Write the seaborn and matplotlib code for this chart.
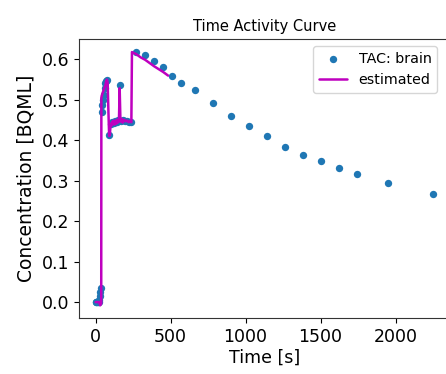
import matplotlib
matplotlib.use("Agg")
import matplotlib.pyplot as plt
import seaborn as sns
import pandas as pd

# --- Data ---
# measured time activity curve (frame mid times in s, concentration)
tac_time = [0, 5, 10, 15, 20, 25, 30, 32, 34,
            40, 45, 50, 55, 60, 65, 70, 75, 90,
            100, 110, 120, 130, 140, 150, 162, 170, 180, 195, 210, 225, 236,
            270, 330, 390, 450, 510, 570, 660, 780, 900, 1020, 1140,
            1260, 1380, 1500, 1620, 1740, 1950, 2250]
tac_conc = [0.0, 0.0, 0.0, 0.0, 0.0, 0.005, 0.015, 0.025, 0.035,
            0.470, 0.487, 0.499, 0.512, 0.528, 0.540, 0.545, 0.549, 0.412,
            0.440, 0.445, 0.442, 0.448, 0.445, 0.450, 0.537, 0.447, 0.450, 0.447, 0.446, 0.444, 0.444,
            0.618, 0.611, 0.596, 0.580, 0.557, 0.541, 0.524, 0.492, 0.459, 0.435, 0.410,
            0.383, 0.364, 0.347, 0.331, 0.317, 0.295, 0.267]

# estimated curve
est_time = [0, 5, 10, 15, 20, 25, 30, 35, 37, 38, 45, 50, 55, 60, 65, 70, 75, 80, 85, 90,
            95, 100, 105, 110, 115, 120, 125, 130, 135, 140, 145, 150, 155, 160, 165,
            170, 175, 180, 190, 200, 210, 220, 230, 238, 242,
            270, 300, 330, 360, 390, 420, 450, 483]
est_conc = [0.0, 0.0, 0.0, 0.0, 0.0, 0.0, -0.008, -0.005, -0.003, 0.505, 0.515, 0.52, 0.525, 0.53, 0.535, 0.545, 0.549, 0.54, 0.47, 0.41,
            0.415, 0.44, 0.435, 0.445, 0.44, 0.448, 0.438, 0.446, 0.44, 0.45, 0.442, 0.448, 0.445, 0.528, 0.45,
            0.445, 0.452, 0.443, 0.45, 0.446, 0.448, 0.444, 0.447, 0.444, 0.617,
            0.612, 0.604, 0.598, 0.59, 0.582, 0.575, 0.568, 0.559]

tac = pd.DataFrame({"time": tac_time, "conc": tac_conc})
est = pd.DataFrame({"time": est_time, "conc": est_conc})

sns.set_style("ticks", {"axes.edgecolor": "#333333", "text.color": "black",
                        "xtick.color": "black", "ytick.color": "black",
                        "axes.labelcolor": "black"})
plt.rcParams["font.family"] = ["DejaVu Sans"]

fig = plt.figure(figsize=(4.46, 3.74), dpi=100)
ax = fig.add_axes([0.1767, 0.1497, 0.832, 0.746])

sns.scatterplot(data=tac, x="time", y="conc", ax=ax, color="#1f77b4",
                s=28, linewidth=0, label="TAC: brain", zorder=2)
sns.lineplot(data=est, x="time", y="conc", ax=ax, color="m",
             linewidth=1.8, label="estimated", sort=False, zorder=3)

ax.set_title("Time Activity Curve", fontsize=10.5, color="black")
ax.set_xlabel("Time [s]", fontsize=12.5, labelpad=2)
ax.set_ylabel("Concentration [BQML]", fontsize=13.5)
ax.tick_params(labelsize=12.5)
ax.set_xticks([0, 500, 1000, 1500, 2000])
ax.set_yticks([0.0, 0.1, 0.2, 0.3, 0.4, 0.5, 0.6])

ax.legend(loc="upper right", bbox_to_anchor=(0.985, 1.0), fontsize=10.3,
          handlelength=2.0)

fig.savefig("out.png", dpi=100)
